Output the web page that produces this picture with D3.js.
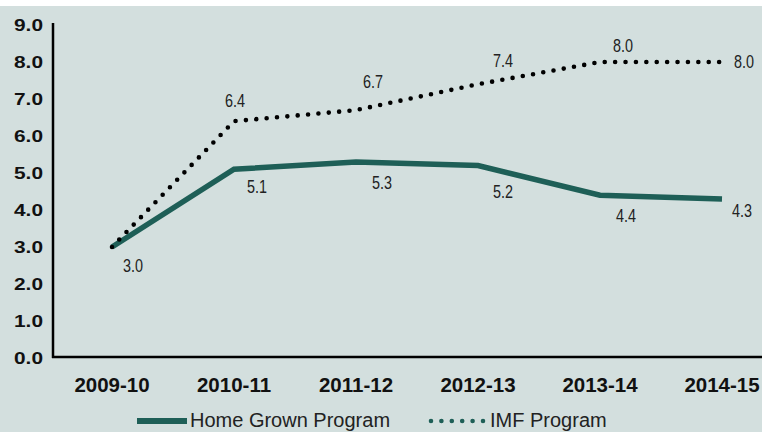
<!DOCTYPE html>
<html>
<head>
<meta charset="utf-8">
<script src="https://cdn.jsdelivr.net/npm/d3@7"></script>
<style>
  html, body { margin: 0; padding: 0; background: #ffffff; }
  svg { display: block; }
</style>
</head>
<body>
<svg id="chart" width="762" height="432"></svg>
<script>
// Fiscal years on the x axis
const years = ["2009-10", "2010-11", "2011-12", "2012-13", "2013-14", "2014-15"];
// Series values
const homeGrown = [3.0, 5.1, 5.3, 5.2, 4.4, 4.3];
const imf = [3.0, 6.4, 6.7, 7.4, 8.0, 8.0];
// Y axis ticks
const yTicks = [0, 1, 2, 3, 4, 5, 6, 7, 8, 9];
const seriesNames = ["Home Grown Program", "IMF Program"];

// Hand placement of the value labels relative to their points [dx, dy of baseline]
const homeLabelNudge = [[21, 25], [23, 24], [26, 27], [25, 32], [26, 27], [20, 18]];
const imfLabelNudge = [null, [1, -14], [17, -22], [25, -17], [23, -10], [22, 6]];

const W = 762, H = 432;
const bg = "#d3dfde";
const teal = "#1e5f57";
const sans = "'Liberation Sans', Arial, sans-serif";

const svg = d3.select("#chart");

// Panel background under a thin white strip at the top
svg.append("rect").attr("x", 0).attr("y", 6).attr("width", W).attr("height", H - 6).attr("fill", bg);

const x = d3.scaleBand().domain(years).range([51, 783]).padding(0);
const xc = d => x(d) + x.bandwidth() / 2;
const y = d3.scaleLinear().domain([0, 9]).range([358, 25]);

// Y axis
const yAxis = svg.append("g").attr("transform", "translate(53,0)")
  .call(d3.axisLeft(y).tickValues(yTicks).tickFormat(d3.format(".1f")).tickSize(0).tickPadding(10));
yAxis.select(".domain").attr("stroke", "#000").attr("stroke-width", 2.5).attr("d", `M0,${y(9) - 2}V${y(0)}`);
yAxis.selectAll("text").attr("font-family", sans)
  .attr("font-weight", "bold").attr("font-size", 17).attr("fill", "#111")
  .attr("textLength", 29).attr("lengthAdjust", "spacingAndGlyphs");

// X axis
const xAxis = svg.append("g").attr("transform", `translate(0,${y(0) - 1})`)
  .call(d3.axisBottom(x).tickSize(0).tickPadding(20));
xAxis.select(".domain").attr("stroke", "#000").attr("stroke-width", 2.5).attr("d", `M52,0H${W + 5}`);
xAxis.selectAll("text").attr("font-family", sans)
  .attr("font-weight", "bold").attr("font-size", 20.5).attr("fill", "#111");

const line = d3.line().x((d, i) => xc(years[i])).y(d => y(d));

// Home Grown Program: solid teal
svg.append("path").datum(homeGrown).attr("d", line)
  .attr("fill", "none").attr("stroke", teal).attr("stroke-width", 5.5).attr("stroke-linejoin", "miter");

// IMF Program: round dots
svg.append("path").datum(imf).attr("d", line)
  .attr("fill", "none").attr("stroke", "#000").attr("stroke-width", 4.6)
  .attr("stroke-linecap", "round").attr("stroke-dasharray", "0,10.4");

const fmt = d3.format(".1f");

function valueLabels(values, nudges) {
  const items = values.map((v, i) => ({ v, i, n: nudges[i] })).filter(d => d.n);
  svg.append("g").selectAll("text").data(items).join("text")
    .attr("x", d => xc(years[d.i]) + d.n[0])
    .attr("y", d => y(d.v) + d.n[1])
    .attr("text-anchor", "middle")
    .attr("font-family", sans).attr("font-size", 19).attr("fill", "#222")
    .attr("textLength", 20).attr("lengthAdjust", "spacingAndGlyphs")
    .text(d => fmt(d.v));
}
valueLabels(homeGrown, homeLabelNudge);
valueLabels(imf, imfLabelNudge);

// Legend along the bottom edge
const legendY = 421;
const lg = svg.append("g");
lg.append("line").attr("x1", 137).attr("x2", 187).attr("y1", legendY).attr("y2", legendY)
  .attr("stroke", teal).attr("stroke-width", 6);
lg.append("text").attr("x", 190).attr("y", legendY + 6).attr("font-family", sans)
  .attr("font-size", 20).attr("fill", "#222").text(seriesNames[0]);
lg.append("line").attr("x1", 431).attr("x2", 484).attr("y1", legendY).attr("y2", legendY)
  .attr("stroke", teal).attr("stroke-width", 4.6).attr("stroke-linecap", "round").attr("stroke-dasharray", "0,10.4");
lg.append("text").attr("x", 490).attr("y", legendY + 6).attr("font-family", sans)
  .attr("font-size", 20).attr("fill", "#222").text(seriesNames[1]);
</script>
</body>
</html>
